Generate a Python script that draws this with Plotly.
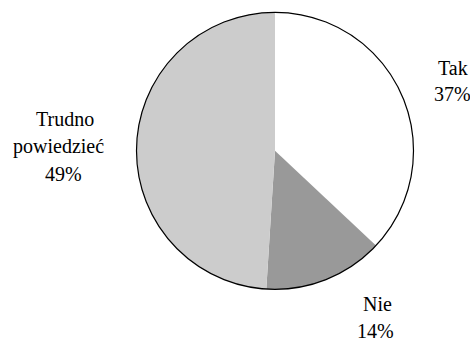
import plotly.graph_objects as go

labels = ["Tak", "Nie", "Trudno<br>powiedzieć"]
values = [37, 14, 49]
colors = ["#ffffff", "#999999", "#cccccc"]

W, H = 470, 342
cx, cy, r = 275, 150.8, 138.5

x0, x1 = (cx - r) / W, (cx + r) / W
y0, y1 = 1 - (cy + r) / H, 1 - (cy - r) / H

FONT = "'Liberation Serif', 'Times New Roman', Tinos, serif"
FS = 20

fig = go.Figure(go.Pie(
    labels=labels, values=values, sort=False, direction="clockwise", rotation=0,
    marker=dict(colors=colors, line=dict(width=0)),
    textinfo="none", hoverinfo="label+percent", showlegend=False,
    domain=dict(x=[x0, x1], y=[y0, y1]),
))

fig.add_shape(type="circle", xref="paper", yref="paper", x0=x0, x1=x1, y0=y0, y1=y1,
              line=dict(color="#000000", width=1.2), layer="above")

# per-line label positions (pixel centre x, centre y) for each slice
line_pos = [
    [(452.8, 67.5), (452.5, 94.2)],
    [(377, 303.9), (375, 330.7)],
    [(64.5, 118.9), (58.5, 146.5), (63, 174.2)],
]
for lab, v, pos in zip(labels, values, line_pos):
    lines = lab.split("<br>") + [f"{v}%"]
    for txt, (px, py) in zip(lines, pos):
        fig.add_annotation(x=px / W, y=1 - py / H, xref="paper", yref="paper",
                           text=txt, showarrow=False,
                           xanchor="center", yanchor="middle",
                           font=dict(family=FONT, size=FS, color="#000000"))

fig.update_layout(template="none", width=W, height=H, margin=dict(l=0, r=0, t=0, b=0),
                  font=dict(family=FONT, color="#000000"),
                  paper_bgcolor="#ffffff", plot_bgcolor="#ffffff")
fig.write_html("out.html")
